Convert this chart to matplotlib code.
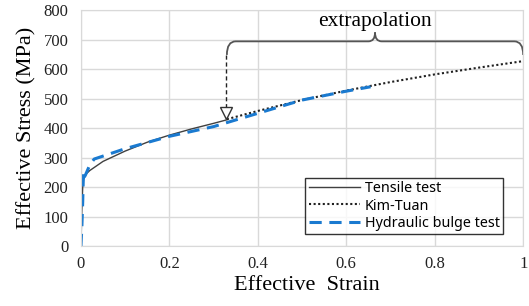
import matplotlib
matplotlib.use('Agg')
import matplotlib.pyplot as plt
from matplotlib.path import Path
from matplotlib.patches import PathPatch

# tensile test (solid)
tens_x = [0.0, 0.002, 0.004, 0.006, 0.01, 0.02, 0.05, 0.1, 0.15, 0.2, 0.25, 0.3, 0.33]
tens_y = [0, 120, 200, 228, 242, 256, 287, 322, 352, 376, 397, 416, 428]

# Kim-Tuan extrapolation (dotted)
kt_x = [0.33, 0.4, 0.5, 0.6, 0.7, 0.8, 0.9, 1.0]
kt_y = [430, 458, 495, 527, 556, 582, 605, 627]

# hydraulic bulge test (dashed)
bulge_x = [0.0, 0.002, 0.004, 0.005, 0.006, 0.008, 0.01, 0.02, 0.03, 0.05, 0.1, 0.2, 0.3, 0.4, 0.5, 0.6, 0.655]
bulge_y = [0, 60, 150, 210, 255, 235, 240, 275, 295, 305, 330, 372, 405, 450, 495, 525, 540]

xticks = [0, 0.2, 0.4, 0.6, 0.8, 1]
xticklabels = ['0', '0.2', '0.4', '0.6', '0.8', '1']
yticks = [0, 100, 200, 300, 400, 500, 600, 700, 800]

plt.rcParams['font.family'] = 'serif'
plt.rcParams['font.serif'] = ['Liberation Serif', 'DejaVu Serif']

fig = plt.figure(figsize=(5.29, 3.06), dpi=100)
ax = fig.add_axes([0.153, 0.196, 0.836, 0.771])

ax.plot(tens_x, tens_y, color='#404040', lw=1.0, label='Tensile test')
ax.plot(kt_x, kt_y, color='#202020', lw=1.5, ls=(0, (1, 1.2)), label='Kim-Tuan')
ax.plot(bulge_x, bulge_y, color='#1a7ad0', lw=2.2, ls=(0, (4, 2.5)), label='Hydraulic bulge test')

ax.set_xlim(0, 1)
ax.set_ylim(0, 800)
ax.set_xticks(xticks)
ax.set_xticklabels(xticklabels, fontfamily='Liberation Serif')
ax.set_yticks(yticks)
ax.set_yticklabels([str(v) for v in yticks], fontfamily='Liberation Serif')
ax.grid(True, color='#d9d9d9', lw=1)
ax.set_axisbelow(True)
for s in ax.spines.values():
    s.set_color('#d9d9d9')
ax.tick_params(length=0, labelsize=12, colors='#222222')
ax.tick_params(axis='y', pad=9)
ax.tick_params(axis='x', pad=7)

ax.set_xlabel('Effective  Strain', fontsize=16, labelpad=3)
ax.xaxis.set_label_coords(0.512, -0.125)
ax.set_ylabel('Effective Stress (MPa)', fontsize=16, labelpad=5)

# brace over the extrapolation range
x0, x1, xm = 0.33, 1.0, 0.665
yb, ye, yt = 694, 648, 724
verts = [(x0, ye), (x0, yb), (x0 + 0.02, yb),
         (xm - 0.015, yb), (xm, yb), (xm, yt),
         (xm, yb), (xm + 0.015, yb),
         (x1 - 0.02, yb), (x1, yb), (x1, ye)]
codes = [Path.MOVETO, Path.CURVE3, Path.CURVE3,
         Path.LINETO, Path.CURVE3, Path.CURVE3,
         Path.CURVE3, Path.CURVE3,
         Path.LINETO, Path.CURVE3, Path.CURVE3]
ax.add_patch(PathPatch(Path(verts, codes), fc='none', ec='#555555', lw=1.3, clip_on=False))
ax.text(xm, 728, 'extrapolation', ha='center', va='bottom', fontsize=15.5)

ax.plot([0.327, 0.327], [648, 462], color='#222222', lw=1, ls=(0, (3, 2)))
ax.plot([0.327], [452], marker='v', ms=9, mfc='white', mec='#333333', mew=1)

leg = ax.legend(loc='lower right', bbox_to_anchor=(0.955, 0.05),
                prop={'family': 'Noto Sans', 'size': 10.3}, frameon=True, fancybox=False,
                handlelength=3.6, handletextpad=0.3, borderpad=0.25, labelspacing=0.15,
                borderaxespad=0)
leg.get_frame().set_edgecolor('#000000')
leg.get_frame().set_linewidth(1)

fig.savefig('out.png', dpi=100)
